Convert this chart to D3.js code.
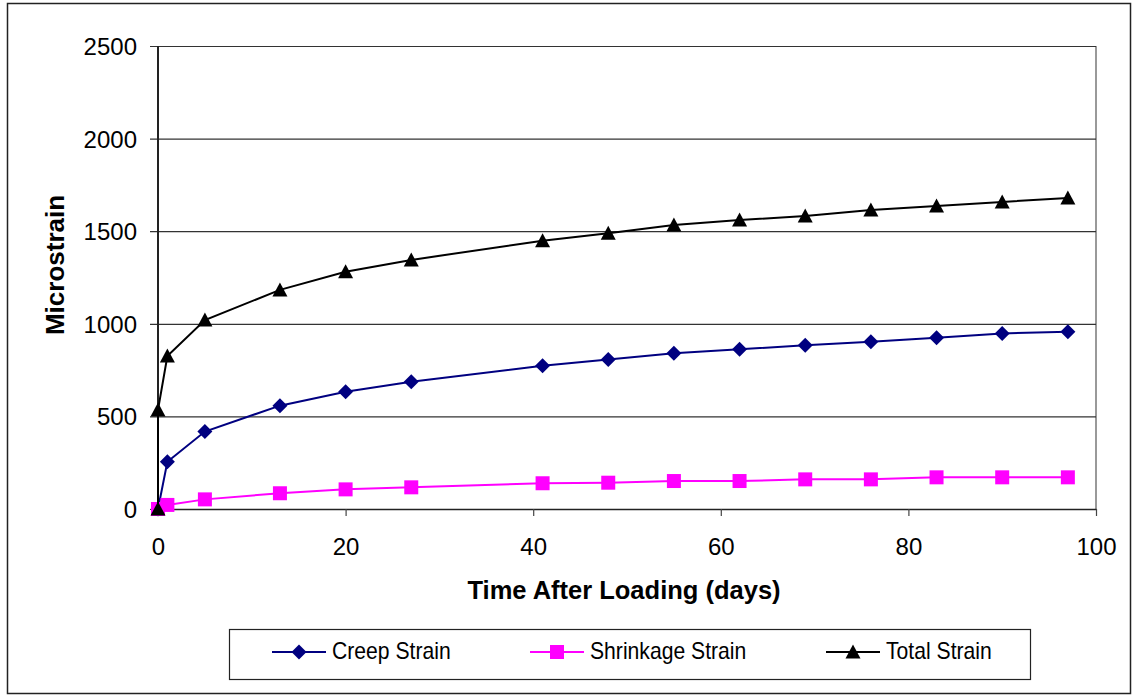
<!DOCTYPE html>
<html>
<head>
<meta charset="utf-8">
<script src="https://cdn.jsdelivr.net/npm/d3@7"></script>
<style>
  html, body { margin: 0; padding: 0; background: #fff; }
  svg { display: block; font-family: "Liberation Sans", Arial, sans-serif; }
</style>
</head>
<body>
<svg id="chart" width="1134" height="696"></svg>
<script>
// Strain readings (microstrain) against time after loading (days)
const days = [0, 1, 5, 13, 20, 27, 41, 48, 55, 62, 69, 76, 83, 90, 97];
const creepStrain = [0, 255, 418, 558, 633, 687, 774, 807, 841, 862, 884, 903, 925, 948, 957];
const shrinkageStrain = [0, 22, 52, 85, 106, 117, 139, 142, 151, 151, 160, 160, 171, 171, 171];
// Total strain has an extra day-0 reading: the instantaneous elastic strain
const totalDays = [0, 0, 1, 5, 13, 20, 27, 41, 48, 55, 62, 69, 76, 83, 90, 97];
const totalStrain = [0, 535, 826, 1020, 1183, 1281, 1345, 1449, 1489, 1533, 1560, 1582, 1614, 1636, 1658, 1679];

const xTicks = [0, 20, 40, 60, 80, 100];
const yTicks = [0, 500, 1000, 1500, 2000, 2500];
const seriesNames = ["Creep Strain", "Shrinkage Strain", "Total Strain"];

const svg = d3.select("#chart");
const W = 1134, H = 696;
const plot = { left: 158, right: 1096, top: 46, bottom: 509 };

const x = d3.scaleLinear().domain([0, 100]).range([plot.left, plot.right]);
const y = d3.scaleLinear().domain([0, 2500]).range([plot.bottom, plot.top]);

// Outer chart frame
svg.append("rect")
  .attr("x", 7.5).attr("y", 3.5)
  .attr("width", 1123).attr("height", 690)
  .attr("fill", "#fff").attr("stroke", "#222").attr("stroke-width", 1.5);

// Plot area right edge
svg.append("line")
  .attr("x1", plot.right).attr("x2", plot.right)
  .attr("y1", plot.top).attr("y2", plot.bottom)
  .attr("stroke", "#777").attr("stroke-width", 1.5);

// Horizontal gridlines with left tick marks and labels
const yAxis = d3.axisLeft(y)
  .tickValues(yTicks)
  .tickSize(-(plot.right - plot.left))
  .tickSizeOuter(0)
  .tickPadding(22)
  .tickFormat(d3.format("d"));

const gy = svg.append("g")
  .attr("transform", `translate(${plot.left},0)`)
  .call(yAxis);
gy.select(".domain").remove();
gy.selectAll(".tick line")
  .attr("x1", -8)
  .attr("stroke", "#333").attr("stroke-width", 1.2);
gy.selectAll(".tick text")
  .attr("fill", "#000")
  .attr("font-size", 24)
  .attr("dy", "0.35em")
  .attr("x", -21);

// Vertical axis line
svg.append("line")
  .attr("x1", plot.left).attr("x2", plot.left)
  .attr("y1", plot.top).attr("y2", plot.bottom)
  .attr("stroke", "#222").attr("stroke-width", 2);

// Horizontal axis
const xAxis = d3.axisBottom(x)
  .tickValues(xTicks)
  .tickSize(7)
  .tickSizeOuter(0)
  .tickPadding(22)
  .tickFormat(d3.format("d"));

const gx = svg.append("g")
  .attr("transform", `translate(0,${plot.bottom})`)
  .call(xAxis);
gx.select(".domain").attr("stroke", "#222").attr("stroke-width", 1.5);
gx.selectAll(".tick line").attr("stroke", "#444").attr("stroke-width", 1.2);
gx.selectAll(".tick text")
  .attr("fill", "#000")
  .attr("font-size", 24)
  .attr("dy", 0)
  .attr("y", 46);

// Axis titles
svg.append("text")
  .attr("transform", "translate(64,265) rotate(-90)")
  .attr("text-anchor", "middle")
  .attr("font-size", 26).attr("font-weight", "bold")
  .text("Microstrain");

svg.append("text")
  .attr("x", 624).attr("y", 599)
  .attr("text-anchor", "middle")
  .attr("font-size", 25.5).attr("font-weight", "bold")
  .text("Time After Loading (days)");

// Marker shapes
const markerPath = {
  diamond: "M0,-7.5L7.5,0L0,7.5L-7.5,0Z",
  square: "M-7,-7H7V7H-7Z",
  triangle: "M0,-7.5L7.5,6.5L-7.5,6.5Z"
};

const series = [
  { name: seriesNames[0], xs: days, ys: creepStrain, color: "#000080", marker: "diamond" },
  { name: seriesNames[1], xs: days, ys: shrinkageStrain, color: "#FF00FF", marker: "square" },
  { name: seriesNames[2], xs: totalDays, ys: totalStrain, color: "#000000", marker: "triangle" }
];

const line = d3.line()
  .x(d => x(d[0]))
  .y(d => y(d[1]));

series.forEach(s => {
  const pts = s.xs.map((d, i) => [d, s.ys[i]]);
  const g = svg.append("g");
  g.append("path")
    .datum(pts)
    .attr("d", line)
    .attr("fill", "none")
    .attr("stroke", s.color)
    .attr("stroke-width", 2);
  g.selectAll("path.marker")
    .data(pts)
    .join("path")
    .attr("class", "marker")
    .attr("transform", d => `translate(${x(d[0])},${y(d[1])})`)
    .attr("d", markerPath[s.marker])
    .attr("fill", s.color);
});

// Legend
const legend = svg.append("g");
legend.append("rect")
  .attr("x", 229.5).attr("y", 629.5)
  .attr("width", 801).attr("height", 50)
  .attr("fill", "#fff").attr("stroke", "#222").attr("stroke-width", 1.2);

const legendX = [272, 530, 826];
series.forEach((s, i) => {
  const lx = legendX[i], ly = 652;
  const item = legend.append("g").attr("transform", `translate(${lx},${ly})`);
  item.append("line")
    .attr("x1", 0).attr("x2", 54)
    .attr("stroke", s.color).attr("stroke-width", 2);
  item.append("path")
    .attr("transform", "translate(27,0)")
    .attr("d", markerPath[s.marker])
    .attr("fill", s.color);
  item.append("text")
    .attr("transform", "translate(60,7) scale(0.92,1)")
    .attr("font-size", 23)
    .attr("fill", "#000")
    .text(s.name);
});
</script>
</body>
</html>
